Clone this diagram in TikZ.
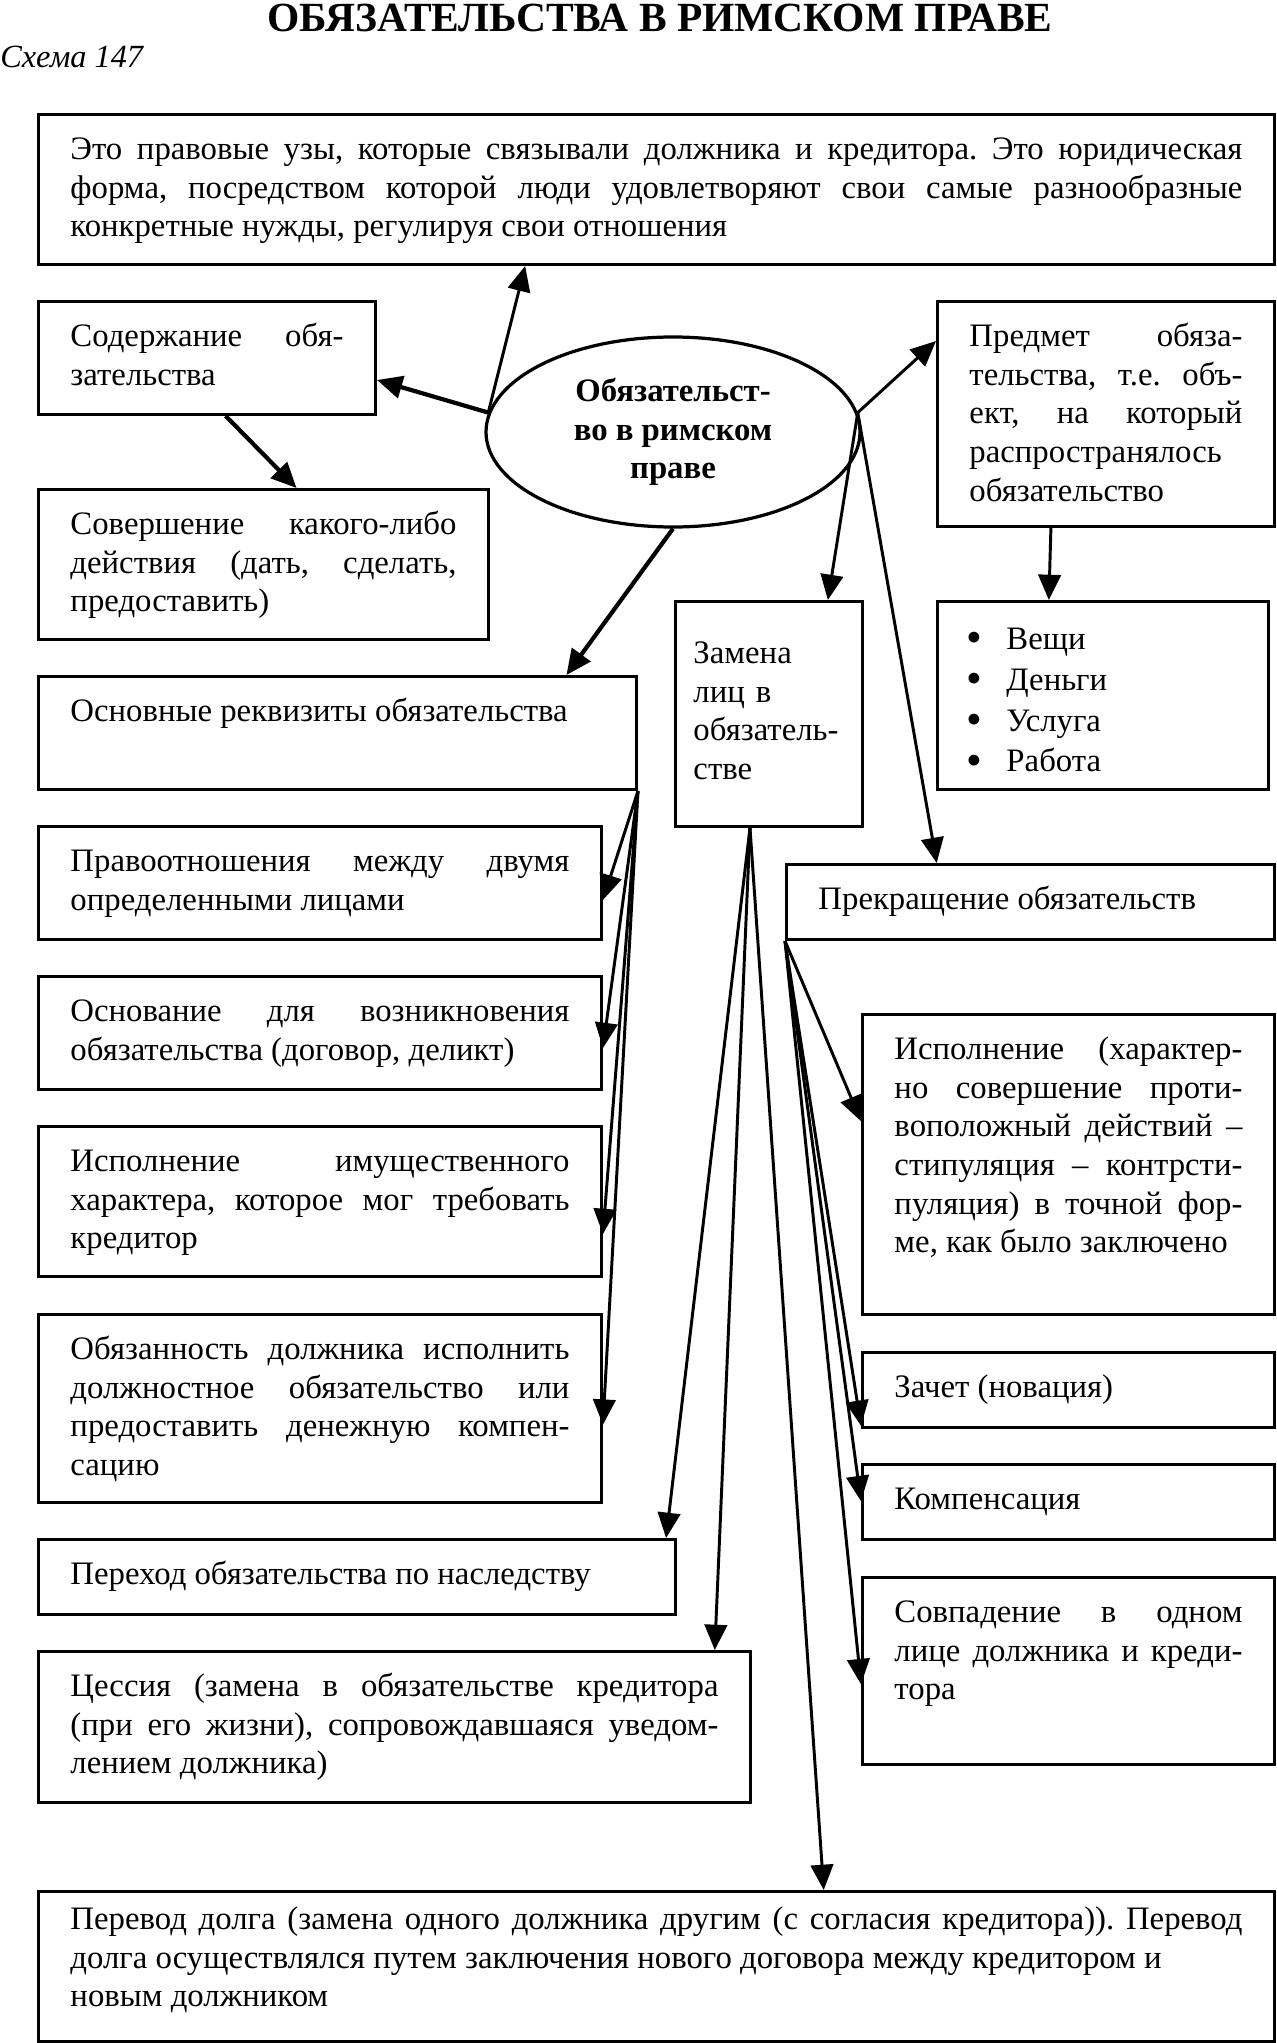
\documentclass[tikz,border=0pt]{standalone}
\usepackage{fontspec}
\setmainfont{Liberation Serif}
\usetikzlibrary{shapes.geometric, arrows.meta, calc}
\newlength{\pxl}
\setlength{\pxl}{0.025cm}
\newcommand{\bodyfont}{\fontsize{23.3pt}{27.5pt}\selectfont\frenchspacing\hyphenpenalty=10000\exhyphenpenalty=10000}
\newcommand{\bull}{\makebox[40\pxl][l]{\raisebox{-2.5pt}{\fontsize{32pt}{32pt}\selectfont •}}}

\begin{document}
\begin{tikzpicture}[x=0.025cm, y=-0.025cm,
  box/.style={draw, line width=2.1pt, anchor=north west, inner xsep=32\pxl, inner ysep=0pt, align=justify, font=\bodyfont, text height=45\pxl},
  arr/.style={-{Triangle[length=18pt, width=16pt]}, line width=2.1pt},
  arrthick/.style={arr, line width=3pt},
  every node/.style={font=\bodyfont}
]
  \useasboundingbox (0,0) rectangle (1276,2043);
  \node[font=\fontsize{29.5pt}{34pt}\selectfont\bfseries, anchor=base, inner sep=0pt] (title) at (660,32) {ОБЯЗАТЕЛЬСТВА В РИМСКОМ ПРАВЕ};
  \node[font=\fontsize{23pt}{27pt}\selectfont\itshape, anchor=base west, inner sep=0pt] (scheme) at (0,68) {Схема 147};

  % centre
  \node[draw, ellipse, line width=2.3pt, minimum width=374\pxl, minimum height=190\pxl, inner sep=0pt, align=center, font=\bodyfont\bfseries] (obl) at (673,432) {Обязательст-\\во в римском\\праве};

  % left column
  \node[box, text width=1172\pxl, text depth=105\pxl] (def) at (37,113) {Это правовые узы, которые связывали должника и кредитора. Это юридическая\linebreak форма, посредством которой люди удовлетворяют свои самые разнообразные\linebreak конкретные нужды, регулируя свои отношения};
  \node[box, text width=273\pxl, text depth=68\pxl] (content) at (37,300) {Содержание обя-\linebreak зательства};
  \node[box, text width=386\pxl, text depth=105\pxl] (action) at (37,488) {Совершение какого-либо\linebreak действия (дать, сделать,\linebreak предоставить)};
  \node[box, text width=534\pxl, text depth=68\pxl] (basics) at (37,675) {Основные реквизиты обязательства};
  \node[box, text width=499\pxl, text depth=68\pxl] (rel) at (37,825) {Правоотношения между двумя\linebreak определенными лицами};
  \node[box, text width=499\pxl, text depth=68\pxl] (basis) at (37,975) {Основание для возникновения\linebreak обязательства (договор, деликт)};
  \node[box, text width=499\pxl, text depth=105\pxl] (perf) at (37,1125) {Исполнение имущественного\linebreak характера, которое мог требовать\linebreak кредитор};
  \node[box, text width=499\pxl, text depth=143\pxl] (duty) at (37,1313) {Обязанность должника исполнить\linebreak должностное обязательство или\linebreak предоставить денежную компен-\linebreak сацию};
  \node[box, text width=573\pxl, text depth=30\pxl] (inherit) at (37,1538) {Переход обязательства по наследству};
  \node[box, text width=648\pxl, text depth=106\pxl] (cession) at (37,1650) {Цессия (замена в обязательстве кредитора\linebreak (при его жизни), сопровождавшаяся уведом-\linebreak лением должника)};
  \node[box, text width=1172\pxl, text height=38\pxl, text depth=112\pxl] (transfer) at (37,1890) {Перевод долга (замена одного должника другим (с согласия кредитора)). Перевод\linebreak долга осуществлялся путем заключения нового договора между кредитором и\\новым должником};

  % middle and right
  \node[box, text width=151\pxl, inner xsep=18\pxl, text height=62\pxl, text depth=163\pxl, align=left] (change) at (674,600) {Замена\\лиц в\\обязатель-\\стве};
  \node[box, text width=273\pxl, text depth=180\pxl] (subject) at (936,300) {Предмет обяза-\linebreak тельства, т.е. объ-\linebreak ект, на который\linebreak распространялось\\обязательство};
  \node[box, text width=273\pxl, text height=48\pxl, text depth=140\pxl, align=left, inner xsep=29\pxl, font=\fontsize{23.3pt}{29pt}\selectfont] (items) at (936,600) {\bull Вещи\\\bull Деньги\\\bull Услуга\\\bull Работа};
  \node[box, text width=424\pxl, text depth=30\pxl] (end) at (785,863) {Прекращение обязательств};
  \node[box, text width=348\pxl, text depth=255\pxl] (perf2) at (861,1013) {Исполнение (характер-\linebreak но совершение проти-\linebreak воположный действий –\linebreak стипуляция – контрсти-\linebreak пуляция) в точной фор-\linebreak ме, как было заключено};
  \node[box, text width=348\pxl, text depth=30\pxl] (setoff) at (861,1351) {Зачет (новация)};
  \node[box, text width=348\pxl, text depth=30\pxl] (comp) at (861,1463) {Компенсация};
  \node[box, text width=348\pxl, text depth=142\pxl] (merge) at (861,1576) {Совпадение в одном\linebreak лице должника и креди-\linebreak тора};

  % arrows from the centre
  \draw[arr] (obl.174) -- ($(def.south west)!.394!(def.south east)$);
  \draw[arrthick] (obl.174) -- ($(content.north east)!.69!(content.south east)$);
  \draw[arrthick] ($(content.south west)!.555!(content.south east)$) -- ($(action.north west)!.573!(action.north east)$);
  \draw[arrthick] (obl.south) -- ($(basics.north west)!.881!(basics.north east)$);
  \draw[arr] (obl.6) -- ($(subject.north west)!.18!(subject.south west)$);
  \draw[arr] (obl.6) -- ($(change.north west)!.81!(change.north east)$);
  \draw[arr] (obl.6) -- ($(end.north west)!.309!(end.north east)$);
  \draw[arr] ($(subject.south west)!.338!(subject.south east)$) -- ($(items.north west)!.338!(items.north east)$);

  % requisites
  \draw[arr] (basics.south east) -- ($(rel.north east)!.646!(rel.south east)$);
  \draw[arr] (basics.south east) -- ($(basis.north east)!.63!(basis.south east)$);
  \draw[arr] (basics.south east) -- ($(perf.north east)!.713!(perf.south east)$);
  \draw[arr] (basics.south east) -- ($(duty.north east)!.585!(duty.south east)$);

  % change of persons
  \draw[arr] ($(change.south west)!.4!(change.south east)$) -- ($(inherit.north west)!.983!(inherit.north east)$);
  \draw[arr] ($(change.south west)!.4!(change.south east)$) -- ($(cession.north west)!.948!(cession.north east)$);
  \draw[arr] ($(change.south west)!.4!(change.south east)$) -- ($(transfer.north west)!.635!(transfer.north east)$);

  % termination
  \draw[arr] (end.south west) -- ($(perf2.north west)!.357!(perf2.south west)$);
  \draw[arr] (end.south west) -- ($(setoff.north west)!.96!(setoff.south west)$);
  \draw[arr] (end.south west) -- ($(comp.north west)!.49!(comp.south west)$);
  \draw[arr] (end.south west) -- ($(merge.north west)!.57!(merge.south west)$);
\end{tikzpicture}
\end{document}
